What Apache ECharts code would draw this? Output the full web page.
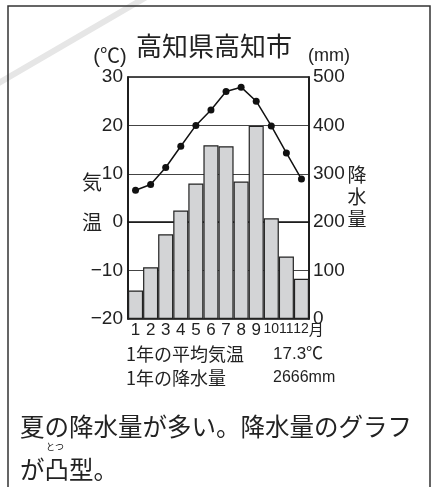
<!DOCTYPE html>
<html><head><meta charset="utf-8">
<script src="https://cdn.jsdelivr.net/npm/echarts@6/dist/echarts.min.js"></script>
<style>html,body{margin:0;padding:0;background:#fff}#c{width:439px;height:487px}</style>
</head><body><div id="c"></div>
<script>
const months = ['1','2','3','4','5','6','7','8','9','10','11','12'];
const temperature = [6.6, 7.8, 11.3, 15.7, 20.0, 23.2, 27.0, 27.9, 25.0, 19.9, 14.3, 8.9];
const precipitation = [59, 107, 175, 224, 280, 359, 357, 284, 399, 208, 129, 83];
const tempRange = { min: -20, max: 30, interval: 10 };
const precipRange = { min: 0, max: 500, interval: 100 };
const title = '高知県高知市';
const statsLabels = ['1年の平均気温', '1年の降水量'];
const statsValues = ['17.3℃', '2666mm'];
const noteLine1 = '夏の降水量が多い。降水量のグラフ';
const noteLine2 = 'が凸型。';
const noteRuby = 'とつ';

const NUM = "'Liberation Sans','Noto Sans CJK JP',sans-serif";
const CJK = "'Noto Sans CJK JP',sans-serif";
const INK = '#222';

const chart = echarts.init(document.getElementById('c'), null, { renderer: 'canvas' });

const txt = (x, y, text, size, opts) => Object.assign({
  type: 'text', x: x, y: y, z: 100,
  style: Object.assign({ text: text, fill: INK, font: size + 'px ' + CJK, align: 'left', verticalAlign: 'middle' }, opts || {})
});

chart.setOption({
  animation: false,
  backgroundColor: '#fff',
  grid: { left: 128, right: 130, top: 77, bottom: 168, show: true, borderColor: '#111', borderWidth: 1.5, backgroundColor: 'transparent' },
  xAxis: {
    type: 'category', data: months,
    axisLine: { show: true, lineStyle: { color: '#111', width: 1.5 } },
    axisTick: { show: false },
    axisLabel: {
      interval: 0, hideOverlap: false,
      margin: 3, color: INK, fontFamily: NUM, fontSize: 17,
      formatter: function (v) {
        if (v === '12') return '{n|12}{m|月}';
        if (v.length > 1) return '{s|' + v + '}';
        return v;
      },
      rich: {
        s: { fontFamily: NUM, fontSize: 14, color: INK },
        n: { fontFamily: NUM, fontSize: 14, color: INK, padding: [0, 0, 0, 14] },
        m: { fontFamily: CJK, fontSize: 15, color: INK }
      }
    }
  },
  yAxis: [
    {
      type: 'value', min: tempRange.min, max: tempRange.max, interval: tempRange.interval,
      axisLine: { show: true, lineStyle: { color: '#111', width: 1.5 } },
      axisTick: { show: false },
      splitLine: { show: true, lineStyle: { color: '#444', width: 1 } },
      axisLabel: { margin: 5, color: INK, fontFamily: NUM, fontSize: 19,
        formatter: function (v) { return v < 0 ? '−' + Math.abs(v) : String(v); } }
    },
    {
      type: 'value', min: precipRange.min, max: precipRange.max, interval: precipRange.interval,
      axisLine: { show: true, lineStyle: { color: '#111', width: 1.5 } },
      axisTick: { show: false },
      splitLine: { show: false },
      axisLabel: { margin: 4, color: INK, fontFamily: NUM, fontSize: 19 }
    }
  ],
  series: [
    {
      type: 'bar', yAxisIndex: 1, data: precipitation, barCategoryGap: '0%',
      itemStyle: { color: '#d3d4d6', borderColor: '#222', borderWidth: 1.2 },
      z: 2
    },
    {
      type: 'line', yAxisIndex: 0, data: temperature,
      symbol: 'circle', symbolSize: 7,
      lineStyle: { color: '#111', width: 1.5 },
      itemStyle: { color: '#111' },
      z: 3
    }
  ],
  graphic: [
    { type: 'rect', z: 90, shape: { x: 8, y: 6, width: 422, height: 500 }, style: { fill: 'none', stroke: '#333', lineWidth: 1.5 } },
    txt(214, 46, title, 26, { align: 'center' }),
    txt(110, 57, '(℃)', 20, { align: 'center', font: '20px ' + NUM }),
    txt(329, 56, '(mm)', 18, { align: 'center', font: '18px ' + NUM }),
    txt(92, 182, '気', 20, { align: 'center' }),
    txt(92, 222, '温', 20, { align: 'center' }),
    txt(357, 175, '降', 19, { align: 'center' }),
    txt(357, 197, '水', 19, { align: 'center' }),
    txt(357, 219, '量', 19, { align: 'center' }),
    txt(126, 354, statsLabels[0], 18),
    txt(126, 378, statsLabels[1], 18),
    txt(273, 354, statsValues[0], 17, { font: '17px ' + NUM }),
    txt(273, 378, statsValues[1], 16, { font: '16px ' + NUM }),
    txt(20, 427, noteLine1, 24.5),
    txt(20, 470, noteLine2, 24.5),
    txt(55, 447, noteRuby, 9, { align: 'center' }),
    { type: 'line', z: 80, shape: { x1: -10, y1: 88, x2: 155, y2: -8 }, style: { stroke: '#e6e6e6', lineWidth: 6 } }
  ]
});
</script></body></html>
